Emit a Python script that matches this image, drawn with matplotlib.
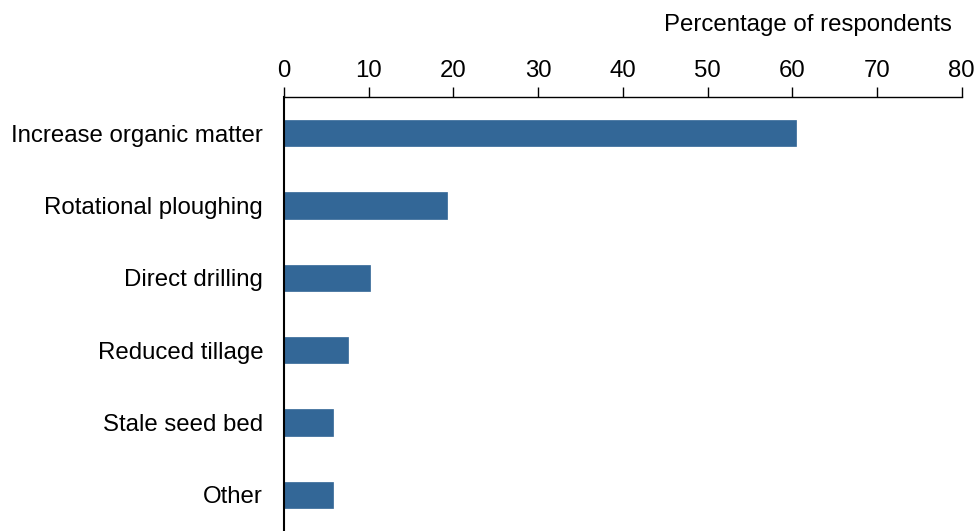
import numpy as np
import matplotlib.pyplot as plt

plt.rcParams['font.family'] = ['Liberation Sans', 'DejaVu Sans']

# survey answers, top to bottom
categories = ['Increase organic matter', 'Rotational ploughing', 'Direct drilling',
              'Reduced tillage', 'Stale seed bed', 'Other']
values = [60.4, 19.3, 10.1, 7.5, 5.8, 5.8]
xticks = [0, 10, 20, 30, 40, 50, 60, 70, 80]

fig = plt.figure(figsize=(9.76, 5.31), dpi=100)
ax = fig.add_axes([284 / 976, 0.0, (961.7 - 284) / 976, (531 - 97) / 531])

ypos = np.arange(len(categories))
ax.barh(ypos, values, height=0.36, color='#336797', edgecolor='#336797', linewidth=0.5)

ax.set_ylim(len(categories) - 0.5, -0.5)
ax.set_xlim(0, 80)
ax.set_yticks(ypos)
ax.set_yticklabels(categories, fontsize=17.3)
ax.tick_params(axis='y', length=0, pad=15)

ax.xaxis.tick_top()
ax.set_xticks(xticks)
ax.set_xticklabels([str(t) for t in xticks], fontsize=17.3)
ax.tick_params(axis='x', direction='out', length=7, width=1, pad=4)

for s in ['right', 'bottom']:
    ax.spines[s].set_visible(False)
ax.spines['left'].set_linewidth(1.5)
ax.spines['top'].set_linewidth(1)

fig.text(952 / 976, 1 - 25 / 531, 'Percentage of respondents', ha='right', va='center', fontsize=17.3)

fig.savefig('out.png', dpi=100)
